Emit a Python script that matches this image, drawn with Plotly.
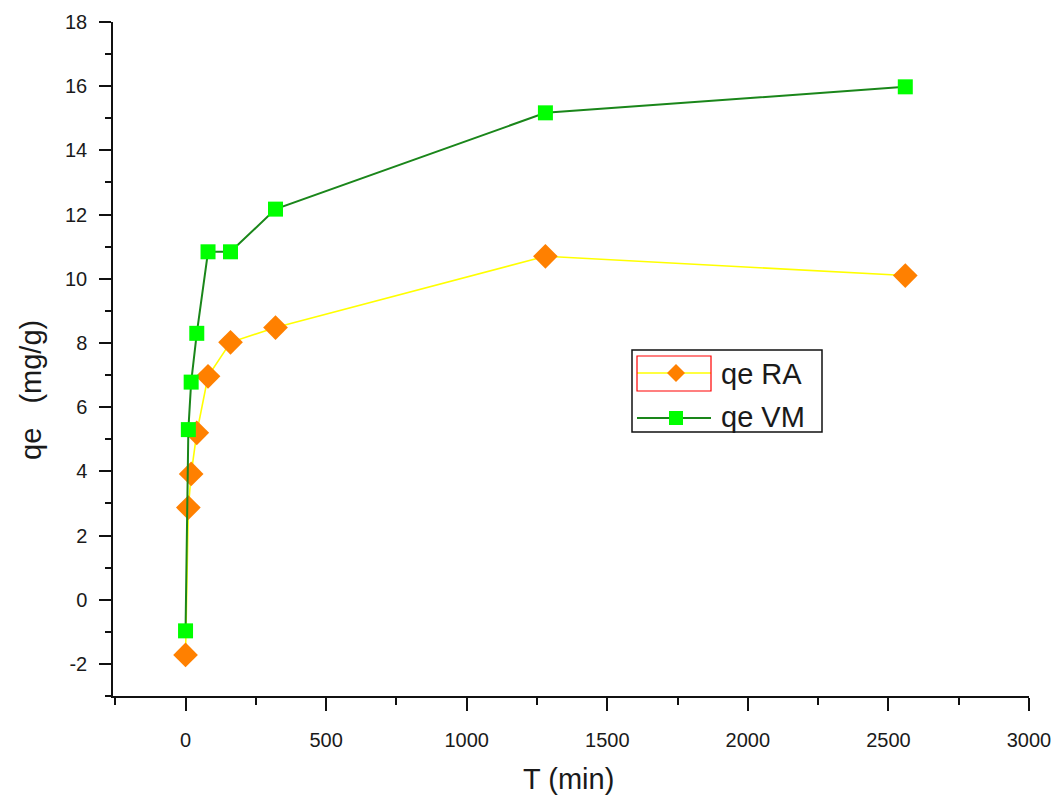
import plotly.graph_objects as go

# Data
t_min = [0, 10, 20, 40, 80, 160, 320, 1280, 2560]
qe_ra = [-1.72, 2.87, 3.92, 5.2, 6.96, 8.02, 8.48, 10.7, 10.1]
qe_vm = [-0.97, 5.3, 6.78, 8.3, 10.84, 10.84, 12.17, 15.17, 15.98]
series_names = ["qe RA", "qe VM"]

x_ticks = [0, 500, 1000, 1500, 2000, 2500, 3000]
y_ticks = [-2, 0, 2, 4, 6, 8, 10, 12, 14, 16, 18]
x_title = "T (min)"
y_title = "qe   (mg/g)"

W, H = 1057, 795
L, R, T, B = 113, 28, 22, 99
PW, PH = W - L - R, H - T - B

def px(x):
    return (x - L) / PW

def py(y):
    return (H - B - y) / PH

fig = go.Figure()
fig.add_trace(go.Scatter(
    x=t_min, y=qe_ra, mode="lines+markers", name=series_names[0],
    line=dict(color="#FFFF00", width=1.6),
    marker=dict(symbol="diamond", size=19, color="#FF8000", line=dict(width=0)),
    showlegend=False,
))
fig.add_trace(go.Scatter(
    x=t_min, y=qe_vm, mode="lines+markers", name=series_names[1],
    line=dict(color="#1A861A", width=2),
    marker=dict(symbol="square", size=15, color="#00FF00", line=dict(width=0)),
    showlegend=False,
))

font_family = "Liberation Sans, Arial, sans-serif"
txt = "#1a1a1a"

fig.update_layout(
    width=W, height=H,
    margin=dict(l=L, r=R, t=T, b=B, pad=0, autoexpand=False),
    paper_bgcolor="white", plot_bgcolor="white",
    font=dict(family=font_family, color=txt),
    xaxis=dict(
        range=[-258, 3000], tickvals=x_ticks, ticktext=[str(v) for v in x_ticks],
        showgrid=False, zeroline=False, showline=True, linecolor="#111", linewidth=1.5,
        ticks="outside", ticklen=13, tickwidth=1.5, tickcolor="#111",
        minor=dict(dtick=250, tick0=0, ticks="outside", ticklen=7, tickwidth=1.5, tickcolor="#111"),
        tickfont=dict(size=20, color=txt),
        ticklabelstandoff=12, automargin=False,
    ),
    yaxis=dict(
        range=[-3, 18], tickvals=y_ticks, ticktext=[str(v) for v in y_ticks],
        showgrid=False, zeroline=False, showline=True, linecolor="#111", linewidth=1.5,
        ticks="outside", ticklen=12, tickwidth=1.5, tickcolor="#111",
        minor=dict(dtick=1, tick0=-3, ticks="outside", ticklen=6, tickwidth=1.5, tickcolor="#111"),
        tickfont=dict(size=20, color=txt),
        ticklabelstandoff=8, automargin=False,
    ),
)

# Axis titles placed as annotations
fig.add_annotation(x=px(568), y=py(779), xref="paper", yref="paper", text=x_title,
                   showarrow=False, xanchor="center", yanchor="middle",
                   font=dict(size=29, color=txt, family=font_family))
fig.add_annotation(x=px(31), y=py(390), xref="paper", yref="paper", text=y_title,
                   showarrow=False, xanchor="center", yanchor="middle", textangle=-90,
                   font=dict(size=29, color=txt, family=font_family))

# Custom legend (box, samples, labels) in paper coordinates
shapes = []
shapes.append(dict(type="rect", xref="paper", yref="paper",
                   x0=px(632), x1=px(822), y0=py(432), y1=py(350),
                   line=dict(color="#111", width=1.5), fillcolor="white", layer="above"))
# RA sample
shapes.append(dict(type="line", xref="paper", yref="paper",
                   x0=px(637), x1=px(711), y0=py(373), y1=py(373),
                   line=dict(color="#FFFF00", width=1.6), layer="above"))
shapes.append(dict(type="rect", xref="paper", yref="paper",
                   x0=px(637), x1=px(711), y0=py(391), y1=py(356),
                   line=dict(color="#FF0000", width=1.2), layer="above"))
d = 9
cx, cy = 676, 373
shapes.append(dict(type="path", xref="paper", yref="paper",
                   path=f"M{px(cx)},{py(cy - d)} L{px(cx + d)},{py(cy)} L{px(cx)},{py(cy + d)} L{px(cx - d)},{py(cy)} Z",
                   fillcolor="#FF8000", line=dict(width=0), layer="above"))
# VM sample
shapes.append(dict(type="line", xref="paper", yref="paper",
                   x0=px(637), x1=px(711), y0=py(418), y1=py(418),
                   line=dict(color="#1A861A", width=2), layer="above"))
s = 7
cx, cy = 676, 418
shapes.append(dict(type="rect", xref="paper", yref="paper",
                   x0=px(cx - s), x1=px(cx + s), y0=py(cy + s), y1=py(cy - s),
                   fillcolor="#00FF00", line=dict(width=0), layer="above"))
fig.update_layout(shapes=shapes)

for name, yy in zip(series_names, [374, 417]):
    fig.add_annotation(x=px(719), y=py(yy), xref="paper", yref="paper",
                       text=name, showarrow=False, xanchor="left", yanchor="middle",
                       font=dict(size=29, color=txt, family=font_family))

fig.write_html("out.html")
